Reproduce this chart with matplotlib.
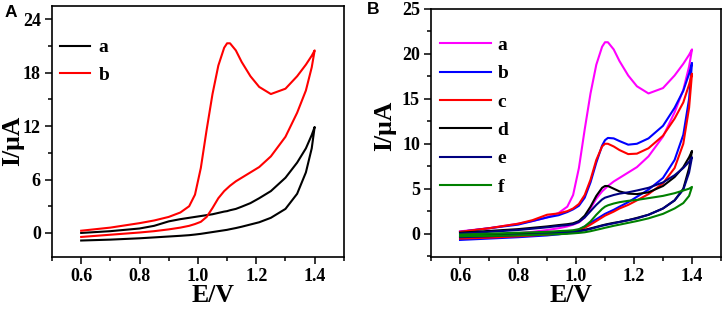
import matplotlib
matplotlib.use("Agg")
import matplotlib.pyplot as plt
from matplotlib.ticker import MultipleLocator

# potential grid (V), same points for forward and reverse branch
E = [0.60, 0.70, 0.80, 0.85, 0.90, 0.94, 0.97, 0.99, 1.01, 1.03, 1.05, 1.07, 1.09,
     1.10, 1.11, 1.13, 1.15, 1.18, 1.21, 1.25, 1.30, 1.34, 1.37, 1.39, 1.40]

# currents (uA): *_up = forward scan, *_down = reverse scan
bare_up = [0.0, 0.2, 0.5, 0.8, 1.3, 1.55, 1.7, 1.8, 1.9, 2.0, 2.1, 2.25, 2.4,
           2.45, 2.55, 2.7, 2.95, 3.35, 3.9, 4.7, 6.2, 7.9, 9.5, 11.0, 11.9]
bare_down = [-0.85, -0.75, -0.6, -0.5, -0.4, -0.32, -0.25, -0.18, -0.1, 0.0, 0.1, 0.2, 0.3,
             0.35, 0.42, 0.55, 0.7, 0.95, 1.2, 1.7, 2.7, 4.4, 6.8, 9.5, 11.9]

mod_up = [0.25, 0.6, 1.1, 1.4, 1.8, 2.3, 3.0, 4.3, 7.3, 11.6, 15.6, 18.8, 20.8,
          21.3, 21.3, 20.5, 19.2, 17.6, 16.4, 15.6, 16.2, 17.6, 18.9, 19.9, 20.5]
mod_down = [-0.45, -0.2, 0.05, 0.2, 0.4, 0.6, 0.8, 1.0, 1.25, 1.8, 2.8, 3.9, 4.7,
            5.0, 5.3, 5.8, 6.2, 6.8, 7.4, 8.6, 10.8, 13.5, 16.0, 18.6, 20.5]

b_up = [0.2, 0.6, 1.0, 1.4, 1.8, 2.05, 2.4, 2.7, 3.1, 4.0, 5.7, 7.9, 9.8,
        10.4, 10.65, 10.6, 10.3, 9.9, 10.0, 10.6, 12.0, 14.0, 15.9, 17.8, 19.0]
b_down = [-0.7, -0.55, -0.4, -0.3, -0.2, -0.08, 0.05, 0.2, 0.45, 0.8, 1.2, 1.6, 2.0,
          2.2, 2.35, 2.65, 3.0, 3.5, 4.1, 4.9, 6.2, 8.2, 11.0, 15.0, 19.0]

c_up = [0.2, 0.6, 1.1, 1.5, 2.1, 2.25, 2.5, 2.8, 3.3, 4.3, 6.0, 8.2, 9.7,
        10.0, 10.0, 9.7, 9.3, 8.85, 8.9, 9.5, 10.9, 12.8, 14.6, 16.6, 17.8]
c_down = [-0.55, -0.45, -0.3, -0.2, -0.1, 0.0, 0.08, 0.15, 0.35, 0.65, 1.0, 1.4, 1.8,
          2.0, 2.15, 2.45, 2.8, 3.2, 3.7, 4.4, 5.6, 7.3, 10.0, 14.0, 17.8]

d_up = [0.1, 0.3, 0.5, 0.65, 0.8, 0.95, 1.05, 1.15, 1.4, 2.0, 3.0, 4.2, 5.1,
        5.3, 5.3, 5.0, 4.7, 4.45, 4.4, 4.6, 5.3, 6.3, 7.4, 8.5, 9.2]
d_down = [-0.2, -0.1, 0.0, 0.05, 0.1, 0.15, 0.2, 0.22, 0.3, 0.42, 0.58, 0.75, 0.92,
          1.0, 1.07, 1.2, 1.3, 1.5, 1.75, 2.1, 2.8, 3.7, 5.0, 7.3, 9.2]

e_up = [0.0, 0.2, 0.4, 0.55, 0.7, 0.85, 0.95, 1.05, 1.3, 1.8, 2.5, 3.2, 3.8,
        4.0, 4.1, 4.3, 4.45, 4.6, 4.8, 5.1, 5.7, 6.5, 7.3, 8.0, 8.5]
e_down = [-0.4, -0.3, -0.15, -0.1, 0.0, 0.08, 0.13, 0.18, 0.25, 0.38, 0.52, 0.7, 0.88,
          0.95, 1.02, 1.15, 1.3, 1.5, 1.7, 2.1, 2.8, 3.7, 4.9, 6.8, 8.5]

f_up = [-0.1, 0.0, 0.1, 0.15, 0.2, 0.28, 0.33, 0.38, 0.5, 0.8, 1.35, 2.1, 2.75,
        3.0, 3.15, 3.35, 3.5, 3.65, 3.75, 3.95, 4.2, 4.5, 4.8, 5.0, 5.2]
f_down = [-0.3, -0.25, -0.2, -0.15, -0.1, -0.06, -0.02, 0.03, 0.08, 0.15, 0.27, 0.42, 0.57,
          0.65, 0.72, 0.87, 1.0, 1.2, 1.4, 1.7, 2.2, 2.8, 3.4, 4.2, 5.2]

curves_A = [("a", "black", bare_up, bare_down),
            ("b", "#ff0000", mod_up, mod_down)]
curves_B = [("a", "#ff00ff", mod_up, mod_down),
            ("b", "#0000ff", b_up, b_down),
            ("c", "#ff0000", c_up, c_down),
            ("d", "black", d_up, d_down),
            ("e", "#000080", e_up, e_down),
            ("f", "#008000", f_up, f_down)]

plt.rcParams["font.family"] = "Liberation Serif"
plt.rcParams["font.weight"] = "bold"


def loop(up, down):
    xs = E + E[::-1]
    ys = up + down[::-1]
    return xs, ys


def style_axes(ax, ylim, ymajor, yminor):
    ax.set_xlim(0.5, 1.5)
    ax.set_ylim(*ylim)
    ax.xaxis.set_major_locator(MultipleLocator(0.2))
    ax.xaxis.set_minor_locator(MultipleLocator(0.1))
    ax.yaxis.set_major_locator(MultipleLocator(ymajor))
    ax.yaxis.set_minor_locator(MultipleLocator(yminor))
    ax.tick_params(which="both", direction="out", top=False, right=False,
                   labelsize=13, width=1.1, pad=3)
    ax.tick_params(which="major", length=5)
    ax.tick_params(which="minor", length=3)
    for s in ax.spines.values():
        s.set_linewidth(1.2)
    ax.set_xlabel("E/V", fontsize=18.5, fontweight="bold")
    ax.set_ylabel("I/μA", fontsize=18.5, fontweight="bold")


fig = plt.figure(figsize=(7.26, 3.10), dpi=100)
axA = fig.add_axes([0.0716, 0.171, 0.402, 0.81])
axB = fig.add_axes([0.5937, 0.171, 0.3994, 0.80])

for name, col, up, down in curves_A:
    xs, ys = loop(up, down)
    axA.plot(xs, ys, color=col, lw=1.5, label=name)
style_axes(axA, (-2.7, 25.5), 6, 3)
axA.set_yticks([0, 6, 12, 18, 24])
axA.xaxis.set_label_coords(0.551, -0.108)
axA.yaxis.set_label_coords(-0.096, 0.462)
axA.legend(loc="upper left", frameon=False, prop={"size": 14, "weight": "bold"},
           handlelength=1.55, handletextpad=0.45, labelspacing=0.5,
           borderaxespad=0, borderpad=0, bbox_to_anchor=(0.027, 0.869))

for name, col, up, down in curves_B:
    xs, ys = loop(up, down)
    axB.plot(xs, ys, color=col, lw=1.5, label=name)
style_axes(axB, (-2.6, 25), 5, 2.5)
axB.xaxis.set_label_coords(0.483, -0.109)
axB.yaxis.set_label_coords(-0.121, 0.528)
axB.legend(loc="upper left", frameon=False, prop={"size": 14, "weight": "bold"},
           handlelength=2.6, handletextpad=0.35, labelspacing=0.55,
           borderaxespad=0, borderpad=0, bbox_to_anchor=(0.031, 0.889))

fig.text(0.006, 0.985, "A", fontsize=12.5, fontweight="bold", family="Liberation Sans",
         va="top", ha="left")
fig.text(0.506, 0.995, "B", fontsize=12.5, fontweight="bold", family="Liberation Sans",
         va="top", ha="left")

fig.savefig("out.png", dpi=100)
